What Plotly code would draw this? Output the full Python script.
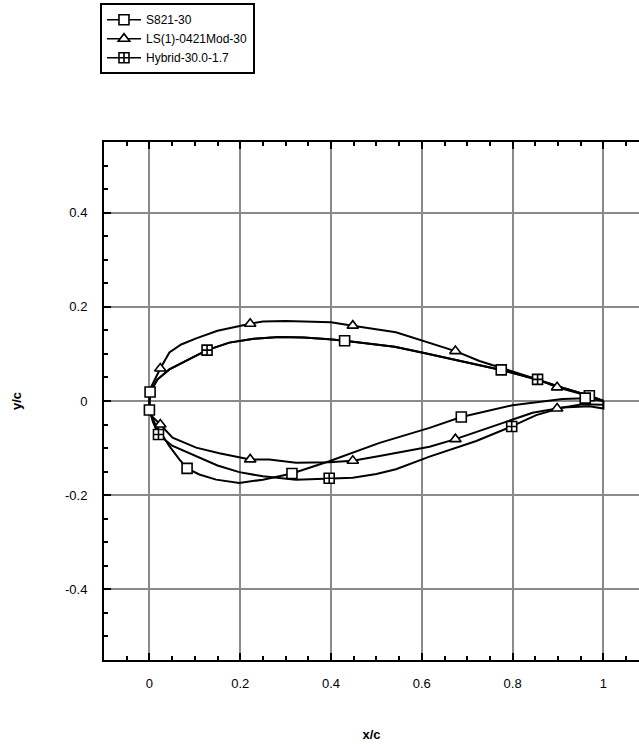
import plotly.graph_objects as go

# ---- airfoil contours (x/c, y/c), trailing edge -> upper surface -> leading edge -> lower surface -> trailing edge
s821_x = [1.0, 0.969, 0.91, 0.85, 0.775, 0.72, 0.66, 0.60, 0.54, 0.47, 0.43, 0.396, 0.34, 0.286, 0.23,
          0.176, 0.127, 0.088, 0.044, 0.018, 0.0015, 0.0, 0.0, 0.011, 0.044, 0.066, 0.083, 0.11, 0.147,
          0.198, 0.25, 0.314, 0.396, 0.507, 0.617, 0.687, 0.80, 0.91, 0.96, 1.0]
s821_y = [0.0, 0.011, 0.028, 0.046, 0.066, 0.078, 0.091, 0.103, 0.115, 0.124, 0.128, 0.131, 0.135, 0.136, 0.132,
          0.124, 0.108, 0.089, 0.067, 0.046, 0.019, 0.0, -0.019, -0.046, -0.096, -0.124, -0.143, -0.156, -0.167,
          -0.174, -0.167, -0.154, -0.128, -0.089, -0.057, -0.034, -0.009, 0.004, 0.006, 0.0]

ls_x = [1.0, 0.97, 0.94, 0.898, 0.855, 0.775, 0.727, 0.674, 0.602, 0.543, 0.448, 0.40, 0.30, 0.25, 0.222,
        0.15, 0.103, 0.07, 0.044, 0.024, 0.004, 0.0, 0.003, 0.024, 0.051, 0.103, 0.154, 0.222, 0.264,
        0.323, 0.396, 0.448, 0.507, 0.58, 0.617, 0.674, 0.749, 0.80, 0.844, 0.898, 0.954, 1.0]
ls_y = [0.0, 0.010, 0.018, 0.029, 0.046, 0.070, 0.085, 0.106, 0.128, 0.146, 0.160, 0.167, 0.170, 0.169, 0.164,
        0.149, 0.133, 0.120, 0.103, 0.069, 0.030, 0.0, -0.030, -0.050, -0.078, -0.099, -0.111, -0.124, -0.124,
        -0.131, -0.130, -0.127, -0.117, -0.104, -0.097, -0.081, -0.057, -0.040, -0.025, -0.016, -0.007, -0.008]

hyb_x = [1.0, 0.969, 0.91, 0.855, 0.775, 0.72, 0.66, 0.60, 0.54, 0.47, 0.43, 0.396, 0.34, 0.286, 0.23,
         0.176, 0.127, 0.088, 0.044, 0.018, 0.0015, 0.0, 0.0, 0.008, 0.02, 0.05, 0.103, 0.15, 0.198, 0.25,
         0.323, 0.396, 0.448, 0.50, 0.543, 0.617, 0.72, 0.798, 0.852, 0.91, 0.969, 1.0, 1.0]
hyb_y = [0.0, 0.011, 0.028, 0.046, 0.066, 0.078, 0.091, 0.103, 0.115, 0.124, 0.128, 0.131, 0.135, 0.136, 0.132,
         0.124, 0.108, 0.089, 0.067, 0.046, 0.019, 0.0, -0.019, -0.045, -0.071, -0.095, -0.117, -0.137, -0.151, -0.160,
         -0.167, -0.164, -0.163, -0.155, -0.145, -0.118, -0.085, -0.054, -0.030, -0.014, -0.011, -0.016, 0.0]

# ---- symbol locations along each contour
s821_mx = [0.969, 0.775, 0.43, 0.0015, 0.0, 0.083, 0.314, 0.687, 0.96]
s821_my = [0.011, 0.066, 0.128, 0.019, -0.019, -0.143, -0.154, -0.034, 0.006]

ls_mx = [0.898, 0.674, 0.448, 0.222, 0.024, 0.024, 0.222, 0.448, 0.674, 0.898]
ls_my = [0.029, 0.106, 0.160, 0.164, 0.069, -0.050, -0.124, -0.127, -0.081, -0.016]

hyb_mx = [0.855, 0.127, 0.02, 0.396, 0.798]
hyb_my = [0.046, 0.108, -0.071, -0.164, -0.054]

names = ["S821-30", "LS(1)-0421Mod-30", "Hybrid-30.0-1.7"]

x_ticks = [0, 0.2, 0.4, 0.6, 0.8, 1]
x_tick_text = ["0", "0.2", "0.4", "0.6", "0.8", "1"]
y_ticks = [-0.4, -0.2, 0, 0.2, 0.4]
y_tick_text = ["-0.4", "-0.2", "0", "0.2", "0.4"]


def isolated(xs, ys):
    """Separate points with gaps so only the symbols are drawn."""
    gx, gy = [], []
    for a, b in zip(xs, ys):
        gx += [a, None]
        gy += [b, None]
    return gx, gy


series = [
    (names[0], s821_x, s821_y, s821_mx, s821_my, "square"),
    (names[1], ls_x, ls_y, ls_mx, ls_my, "triangle-up"),
    (names[2], hyb_x, hyb_y, hyb_mx, hyb_my, "square-cross"),
]

fig = go.Figure()
for name, cx, cy, mx, my, sym in series:
    fig.add_trace(go.Scatter(
        x=cx, y=cy, mode="lines", line=dict(color="black", width=2),
        legendgroup=name, showlegend=False, hoverinfo="skip",
    ))
for name, cx, cy, mx, my, sym in series:
    gx, gy = isolated(mx, my)
    fig.add_trace(go.Scatter(
        x=gx, y=gy, mode="lines+markers", name=name, legendgroup=name,
        connectgaps=False,
        line=dict(color="black", width=1.5),
        marker=dict(symbol=sym, size=10, color="white",
                    line=dict(color="black", width=1.6)),
    ))

axis_font = dict(family="Liberation Sans, Arial, sans-serif", size=13, color="black")

fig.update_layout(
    width=639, height=744,
    margin=dict(l=104, r=0, t=142, b=84),
    paper_bgcolor="white", plot_bgcolor="white",
    font=axis_font,
    showlegend=True,
    legend=dict(
        x=-0.0075, y=1.268, xanchor="left", yanchor="top",
        bgcolor="white", bordercolor="black", borderwidth=2,
        font=dict(family="Liberation Sans, Arial, sans-serif", size=12, color="black"),
        itemwidth=34, tracegroupgap=0,
    ),
    xaxis=dict(
        range=[-0.1, 1.0784], tickvals=x_ticks, ticktext=x_tick_text,
        showline=True, linecolor="black", linewidth=2, mirror="allticks",
        ticks="inside", ticklen=7, tickwidth=2, tickcolor="black",
        showgrid=True, gridcolor="#8a8a8a", gridwidth=2, zeroline=False,
        minor=dict(dtick=0.05, ticks="inside", ticklen=4, tickwidth=1.5,
                   tickcolor="black", showgrid=False),
        ticklabelstandoff=10,
        title=dict(text="<b>x/c</b>", font=dict(size=13), standoff=40),
    ),
    yaxis=dict(
        range=[-0.55, 0.55], tickvals=y_ticks, ticktext=y_tick_text,
        showline=True, linecolor="black", linewidth=2, mirror=False,
        ticks="inside", ticklen=7, tickwidth=2, tickcolor="black",
        showgrid=True, gridcolor="#8a8a8a", gridwidth=2, zeroline=False,
        minor=dict(dtick=0.05, ticks="inside", ticklen=4, tickwidth=1.5,
                   tickcolor="black", showgrid=False),
        ticklabelstandoff=12,
        title=dict(text="<b>y/c</b>", font=dict(size=13), standoff=40),
    ),
)

fig.write_html("out.html")
